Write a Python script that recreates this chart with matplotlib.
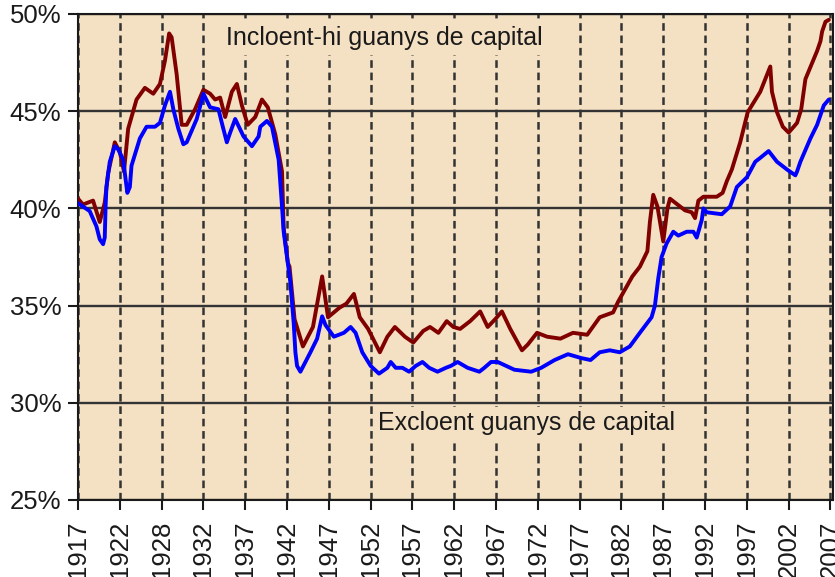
import matplotlib
matplotlib.use("Agg")
from matplotlib import pyplot as plt

# share of income going to the top decile
incl_years = [1917.0, 1917.6, 1918.8, 1919.6, 1920.2, 1920.6, 1921.4, 1922.0, 1922.5, 1923.0,
              1924.0, 1925.0, 1926.0, 1926.8, 1927.4, 1927.9, 1928.2, 1928.8, 1929.4, 1930.0,
              1931.0, 1932.0, 1932.8, 1933.4, 1934.0, 1934.6, 1935.4, 1936.0, 1936.6, 1937.3,
              1938.2, 1939.0, 1939.7, 1940.6, 1941.4, 1941.6, 1942.1, 1942.3, 1942.9, 1943.9,
              1945.1, 1946.2, 1946.9, 1948.3, 1949.1, 1950.0, 1950.7, 1951.7, 1953.1, 1954.0,
              1954.9, 1956.1, 1957.1, 1958.3, 1959.1, 1960.1, 1961.1, 1961.9, 1962.7, 1963.9,
              1965.1, 1966.0, 1966.9, 1967.7, 1968.7, 1970.1, 1970.8, 1971.9, 1973.1, 1974.7,
              1976.2, 1977.9, 1979.4, 1981.0, 1981.6, 1983.3, 1984.2, 1985.1, 1985.4, 1985.8,
              1986.3, 1987.0, 1987.5, 1987.8, 1989.6, 1990.4, 1990.8, 1991.2, 1991.8, 1993.4,
              1994.1, 1994.6, 1995.2, 1996.2, 1997.1, 1998.6, 1999.8, 2000.0, 2000.6, 2001.3,
              2002.0, 2003.0, 2003.5, 2004.0, 2005.4, 2005.8, 2006.0, 2006.4, 2006.8]
incl_vals = [40.5, 40.2, 40.4, 39.3, 40.3, 41.8, 43.4, 42.9, 41.9, 44.1,
             45.6, 46.2, 45.9, 46.4, 47.6, 49.0, 48.8, 46.9, 44.3, 44.3,
             45.1, 46.1, 45.9, 45.6, 45.7, 44.7, 46.0, 46.4, 45.3, 44.3,
             44.7, 45.6, 45.2, 43.8, 41.9, 39.0, 37.2, 37.0, 34.3, 32.9,
             33.9, 36.5, 34.4, 34.9, 35.1, 35.6, 34.4, 33.8, 32.6, 33.4,
             33.9, 33.4, 33.1, 33.7, 33.9, 33.6, 34.2, 33.9, 33.8, 34.2,
             34.7, 33.9, 34.3, 34.7, 33.8, 32.7, 33.0, 33.6, 33.4, 33.3,
             33.6, 33.5, 34.4, 34.65, 35.2, 36.5, 37.0, 37.8, 39.3, 40.7,
             40.1, 38.3, 40.0, 40.5, 39.9, 39.8, 39.5, 40.4, 40.6, 40.6,
             40.8, 41.4, 42.0, 43.4, 44.95, 46.0, 47.3, 46.0, 44.95, 44.2,
             43.9, 44.4, 45.1, 46.65, 48.1, 48.6, 49.1, 49.6, 49.7]

excl_years = [1917.0, 1918.4, 1919.2, 1919.6, 1920.0, 1920.2, 1920.3, 1920.4, 1920.8, 1921.4,
              1921.8, 1922.4, 1922.9, 1923.2, 1923.4, 1924.4, 1925.2, 1926.2, 1926.8, 1927.4,
              1928.0, 1928.4, 1929.0, 1929.6, 1930.0, 1931.2, 1932.0, 1932.8, 1933.8, 1934.2,
              1934.8, 1935.2, 1935.8, 1936.8, 1937.8, 1938.6, 1938.8, 1939.6, 1940.2, 1941.0,
              1941.4, 1941.6, 1942.0, 1942.4, 1942.8, 1943.0, 1943.2, 1943.6, 1944.8, 1945.6,
              1946.2, 1946.6, 1947.6, 1948.8, 1949.6, 1950.2, 1951.0, 1952.0, 1953.0, 1954.0,
              1954.4, 1955.0, 1955.8, 1956.6, 1957.4, 1958.2, 1959.0, 1960.0, 1961.0, 1961.6,
              1962.4, 1963.6, 1965.0, 1965.6, 1966.4, 1967.2, 1969.2, 1971.2, 1972.4, 1974.0,
              1975.6, 1977.2, 1978.3, 1979.4, 1980.6, 1981.8, 1983.0, 1984.2, 1985.6, 1986.0,
              1986.4, 1986.8, 1987.4, 1988.2, 1988.8, 1989.8, 1990.6, 1991.0, 1991.6, 1991.8,
              1992.2, 1994.0, 1995.0, 1995.8, 1997.0, 1998.0, 1998.6, 1999.6, 2000.6, 2001.8,
              2002.8, 2003.0, 2003.4, 2004.6, 2005.4, 2006.2, 2006.8]
excl_vals = [40.27, 39.86, 39.08, 38.41, 38.16, 38.5, 40.1, 41.1, 42.4, 43.2,
             43.05, 42.5, 40.8, 41.1, 42.2, 43.6, 44.2, 44.2, 44.4, 45.3,
             46.0, 45.1, 44.1, 43.3, 43.4, 44.6, 45.9, 45.2, 45.1, 44.4,
             43.4, 43.9, 44.6, 43.7, 43.2, 43.7, 44.2, 44.5, 44.2, 42.5,
             40.1, 38.8, 37.5, 36.2, 34.1, 32.6, 31.9, 31.6, 32.6, 33.3,
             34.45, 34.0, 33.4, 33.6, 33.9, 33.6, 32.6, 31.9, 31.5, 31.8,
             32.1, 31.8, 31.8, 31.6, 31.9, 32.1, 31.8, 31.6, 31.8, 31.9,
             32.1, 31.8, 31.6, 31.8, 32.1, 32.1, 31.7, 31.6, 31.8, 32.2,
             32.5, 32.3, 32.2, 32.6, 32.7, 32.6, 32.9, 33.6, 34.4, 35.0,
             36.4, 37.5, 38.2, 38.8, 38.6, 38.8, 38.8, 38.5, 39.4, 40.0,
             39.8, 39.7, 40.1, 41.1, 41.6, 42.4, 42.6, 42.95, 42.4, 42.0,
             41.7, 41.9, 42.4, 43.6, 44.3, 45.3, 45.6]

x_ticks = [1917, 1922, 1927, 1932, 1937, 1942, 1947, 1952, 1957, 1962,
           1967, 1972, 1977, 1982, 1987, 1992, 1997, 2002, 2007]
x_labels = ["1917", "1922", "1928", "1932", "1937", "1942", "1947", "1952", "1957", "1962",
            "1967", "1972", "1977", "1982", "1987", "1992", "1997", "2002", "2007"]
y_ticks = [25, 30, 35, 40, 45, 50]
y_labels = ["25%", "30%", "35%", "40%", "45%", "50%"]

bg = "#F4E0C3"
ink = "#1a1a1a"

plt.rcParams['font.family'] = ['Liberation Sans', 'DejaVu Sans']
plt.rcParams['lines.scale_dashes'] = False

fig = plt.figure(figsize=(8.35, 5.77), dpi=100)
ax = fig.add_axes([78 / 835, 1 - 500 / 577, 755 / 835, 486 / 577])
ax.set_facecolor(bg)

ax.set_xlim(1917, 2007.3)
ax.set_ylim(25, 50)

# grid: solid horizontal, dashed vertical
for y in y_ticks:
    ax.axhline(y, color="#333333", linewidth=1.7, zorder=1)
for x in x_ticks:
    ax.axvline(x, color="#333333", linewidth=1.8, linestyle=(0, (5.5, 3.4)), zorder=1)

ax.plot(incl_years, incl_vals, color="#800000", linewidth=2.8,
        solid_joinstyle="round", solid_capstyle="round", zorder=4)
ax.plot(excl_years, excl_vals, color="#0000FF", linewidth=2.8,
        solid_joinstyle="round", solid_capstyle="round", zorder=5)

box = dict(facecolor=bg, edgecolor="none", pad=3)
ax.text(1953.6, 48.75, "Incloent-hi guanys de capital", fontsize=18, color=ink,
        ha="center", va="center", bbox=box, zorder=3)
ax.text(1970.7, 28.95, "Excloent guanys de capital", fontsize=18, color=ink,
        ha="center", va="center", bbox=box, zorder=3)

ax.set_xticks(x_ticks)
ax.set_xticklabels(x_labels, rotation=90)
ax.set_yticks(y_ticks)
ax.set_yticklabels(y_labels)
ax.tick_params(axis="both", direction="out", length=7, width=1.5, color=ink,
               labelsize=18.5, labelcolor=ink)
ax.tick_params(axis="x", pad=8)
ax.tick_params(axis="y", pad=5)

for side in ["left", "bottom", "top", "right"]:
    ax.spines[side].set_color(ink)
    ax.spines[side].set_linewidth(1.5)

plt.savefig("out.png", dpi=100)
